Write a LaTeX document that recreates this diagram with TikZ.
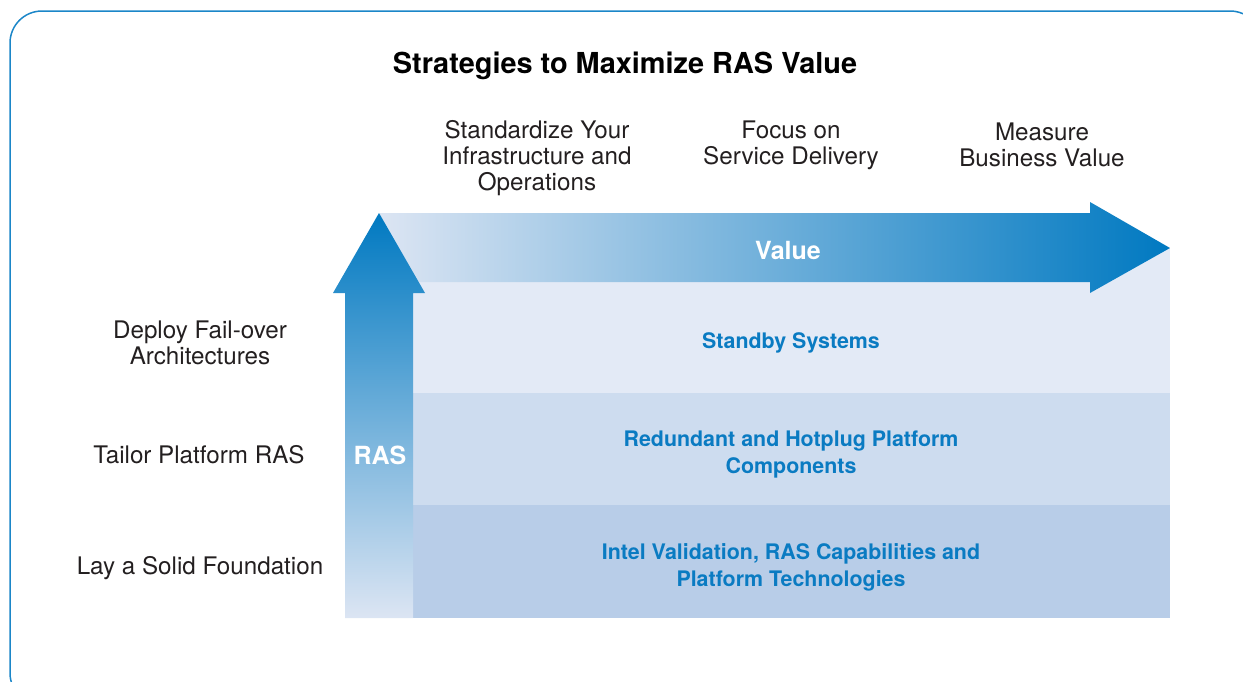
\documentclass[tikz,border=0pt]{standalone}
\usepackage{fontspec}
\setmainfont{TeX Gyre Heros}
\usepackage{xcolor}
\usetikzlibrary{positioning}
\definecolor{rasblue}{HTML}{0079C1}
\definecolor{textblue}{HTML}{0A7BC2}
\definecolor{paleblue}{HTML}{DCE5F3}
\definecolor{midblue}{HTML}{74A3D7}
\definecolor{bandone}{HTML}{E3EAF6}
\definecolor{bandtwo}{HTML}{CDDCEF}
\definecolor{bandthree}{HTML}{B8CDE8}
\definecolor{framecol}{HTML}{1B86C8}
\definecolor{inkgrey}{HTML}{231F20}
\tikzset{
    heading/.style={align=center, inner sep=0pt, text=inkgrey, font=\fontsize{24.2}{26}\selectfont},
    bandlabel/.style={align=center, inner sep=0pt, text=textblue, font=\bfseries\fontsize{21.4}{27}\selectfont},
    arrowlabel/.style={inner sep=0pt, text=white, font=\bfseries\fontsize{25}{28}\selectfont}
}

\begin{document}
\begin{tikzpicture}[x=1pt, y=-1pt]
    \useasboundingbox (0, 0) rectangle (1243, 681);
    \draw[framecol, line width=1.5pt, rounded corners=32pt] (10, 11) rectangle (1262, 705);
    % bands
    \fill[bandone] (413, 248) rectangle (1170, 393);
    \fill[bandtwo] (413, 393) rectangle (1170, 505);
    \fill[bandthree] (413, 505) rectangle (1170, 618);
    % value arrow
    \shade[left color=paleblue, middle color=midblue, right color=rasblue]
        (380, 213) -- (1090, 213) -- (1090, 202) -- (1170, 248) -- (1090, 293)
        -- (1090, 282) -- (380, 282) -- cycle;
    % ras arrow
    \shade[top color=rasblue, bottom color=paleblue]
        (345, 618) -- (345, 293) -- (333, 293) -- (379, 213) -- (425, 293)
        -- (413, 293) -- (413, 618) -- cycle;
    \node[arrowlabel] (value) at (788, 250) {Value};
    \node[arrowlabel] (ras) at (380, 455) {RAS};
    % texts
    \node[inner sep=0pt, text=black, font=\bfseries\fontsize{28.9}{30}\selectfont] (title) at (625, 66) {Strategies to Maximize RAS Value};
    \node[heading] (standardize) at (537, 158) {Standardize Your\\Infrastructure and\\Operations};
    \node[heading] (focus) at (791, 145) {Focus on\\Service Delivery};
    \node[heading] (measure) at (1042, 145) {Measure\\Business Value};
    \node[heading] (deploy) at (200, 343) {Deploy Fail-over\\Architectures};
    \node[heading] (tailor) at (199, 455) {Tailor Platform RAS};
    \node[heading] (lay) at (200, 568) {Lay a Solid Foundation};
    \node[bandlabel] (standby) at (791, 343) {Standby Systems};
    \node[bandlabel] (redundant) at (791, 455) {Redundant and Hotplug Platform\\Components};
    \node[bandlabel] (intel) at (791, 567) {Intel Validation, RAS Capabilities and\\Platform Technologies};
\end{tikzpicture}
\end{document}
